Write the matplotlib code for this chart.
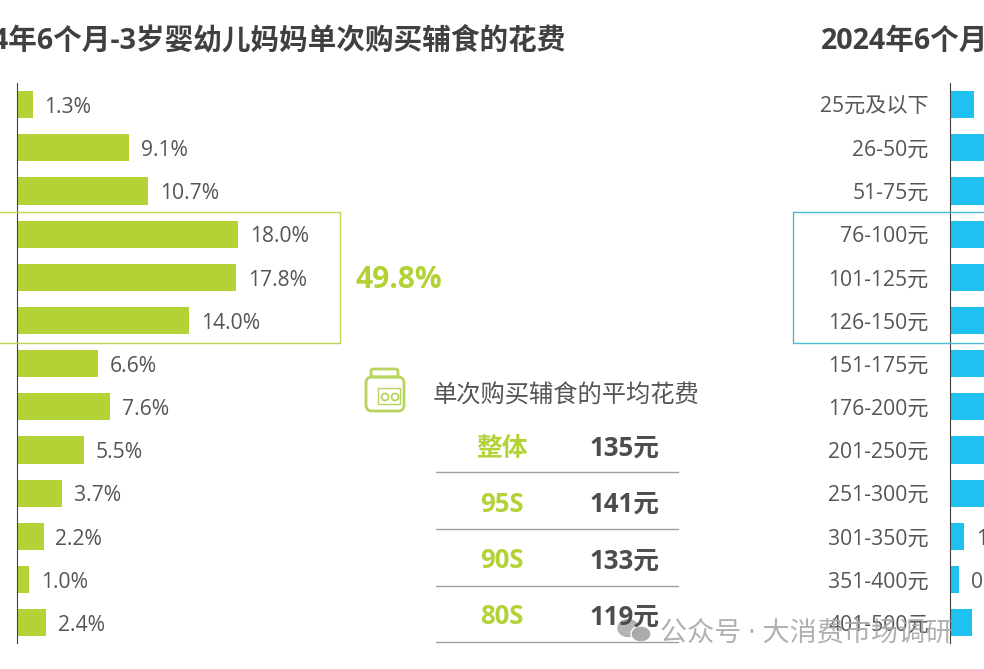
import matplotlib
matplotlib.use('Agg')
import matplotlib.pyplot as plt
from matplotlib.patches import Circle, Ellipse, FancyBboxPatch, Rectangle

plt.rcParams['font.family'] = ['Open Sans', 'Noto Sans CJK SC', 'DejaVu Sans']

W, H = 984, 669
GREEN = '#b2d235'
BLUE = '#1fc1f1'
TEXT = '#555555'
DARK = '#404040'

categories = ['25元及以下', '26-50元', '51-75元', '76-100元', '101-125元', '126-150元',
              '151-175元', '176-200元', '201-250元', '251-300元', '301-350元',
              '351-400元', '401-500元']
left_values = [1.3, 9.1, 10.7, 18.0, 17.8, 14.0, 6.6, 7.6, 5.5, 3.7, 2.2, 1.0, 2.4]
# right panel is cut off by the image edge, the long bars are estimates
right_values = [2.0, 8.0, 10.0, 17.0, 18.0, 14.0, 7.0, 8.0, 6.0, 4.0, 1.2, 0.8, 1.8]

avg_groups = ['整体', '95S', '90S', '80S']
avg_costs = ['135元', '141元', '133元', '119元']


def bar_panel(fig, x0, values, color):
    # panel placed in pixels, may run past the figure edge
    ax = fig.add_axes([x0 / W, 1 - 643 / H, 400 / W, 560 / H])
    ax.patch.set_alpha(0)
    rows = range(len(values))
    ax.barh(rows, values, height=0.63, color=color)
    ax.set_xlim(0, 400 / 12.33)
    ax.set_ylim(12.47, -0.5)
    ax.set_yticks(list(rows))
    ax.set_yticklabels(categories, fontsize=15.2, color=TEXT)
    ax.tick_params(axis='y', length=0, pad=15)
    ax.set_xticks([])
    for s in ['top', 'right', 'bottom']:
        ax.spines[s].set_visible(False)
    ax.spines['left'].set_color(DARK)
    for i, v in enumerate(values):
        ax.annotate('%.1f%%' % v, (v, i), xytext=(8.5, -2), textcoords='offset points',
                    va='center', ha='left', fontsize=15.2, color=TEXT)
    return ax


fig = plt.figure(figsize=(W / 100, H / 100), dpi=100)
bar_panel(fig, 16.5, left_values, GREEN)
bar_panel(fig, 949.5, right_values, BLUE)

# overlay in pixel coordinates for boxes, table and watermark
ov = fig.add_axes([0, 0, 1, 1], zorder=5)
ov.set_xlim(0, W)
ov.set_ylim(H, 0)
ov.axis('off')

ov.text(566, 41, '2024年6个月-3岁婴幼儿妈妈单次购买辅食的花费', ha='right', va='center',
        fontsize=20.6, fontweight='bold', color=DARK)
ov.text(821, 41, '2024年6个月', ha='left', va='center',
        fontsize=20.6, fontweight='bold', color=DARK)

ov.add_patch(Rectangle((-5, 212), 344.5, 131, fill=False, edgecolor='#bcd45a', lw=1))
ov.add_patch(Rectangle((793, 212), 220, 131, fill=False, edgecolor='#4bb9d0', lw=1))
ov.text(399, 280, '49.8%', ha='center', va='center', fontsize=21.5,
        fontweight='bold', color=GREEN)

# jar icon
jar = '#b7d45c'
ov.add_patch(FancyBboxPatch((371, 369), 27, 8, boxstyle='round,pad=0,rounding_size=2',
                            fill=False, edgecolor=jar, lw=2))
ov.add_patch(FancyBboxPatch((366, 377), 38, 34, boxstyle='round,pad=0,rounding_size=6',
                            fill=False, edgecolor=jar, lw=2))
ov.add_patch(Rectangle((378, 388), 22, 16, fill=False, edgecolor=jar, lw=1))
ov.add_patch(Circle((385, 397), 3.5, fill=False, edgecolor=jar, lw=1.3))
ov.add_patch(Circle((395, 397), 3.5, fill=False, edgecolor=jar, lw=1.3))

ov.text(433, 397, '单次购买辅食的平均花费', ha='left', va='center', fontsize=17.5, color=TEXT)

row_y = [448, 504, 561, 617]
line_y = [472, 529, 586, 642]
for g, c, y, ly in zip(avg_groups, avg_costs, row_y, line_y):
    ov.text(502, y, g, ha='center', va='center', fontsize=18.5, fontweight='bold', color=GREEN)
    ov.text(625, y, c, ha='center', va='center', fontsize=18.5, fontweight='bold', color='#4d4d4d')
    ov.plot([436, 678], [ly, ly], color='#a0a0a0', lw=1)

# watermark
wm = '#a8a8a8'
ov.add_patch(Ellipse((628, 628), 20, 17, color=wm, alpha=0.85))
ov.add_patch(Ellipse((641, 634), 20, 16, color=wm, alpha=0.95, ec='white', lw=1))
ov.text(660, 634, '公众号 · 大消费市场调研', ha='left', va='center', fontsize=19.5,
        color=wm, alpha=0.9)

fig.savefig('out.png', dpi=100)
